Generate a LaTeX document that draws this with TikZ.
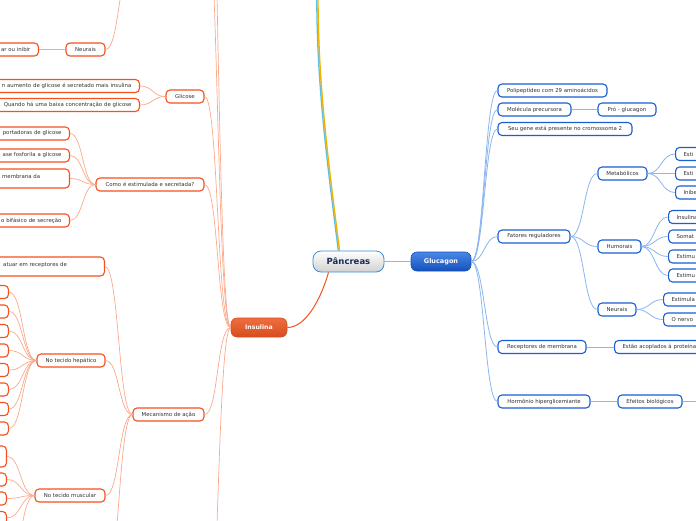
\documentclass[tikz,border=0pt]{standalone}
\usepackage{fontspec}
\setmainfont{DejaVu Sans}
\usetikzlibrary{calc}
\definecolor{oline}{HTML}{F4511E}
\definecolor{olink}{HTML}{FBA98C}
\definecolor{bline}{HTML}{1A5FD0}
\definecolor{blink}{HTML}{8CB6F0}
\definecolor{txt}{HTML}{333333}
\definecolor{pblue}{HTML}{3A8FD8}
\definecolor{pnavy}{HTML}{1B2A55}
\definecolor{yel}{HTML}{F2B200}
\definecolor{cyanl}{HTML}{5BC0EB}
\definecolor{gtop}{HTML}{4A88E6}
\definecolor{gbot}{HTML}{1450BC}
\definecolor{itop}{HTML}{EE6E40}
\definecolor{ibot}{HTML}{D84C1E}
\tikzset{
  box/.style={draw, rounded corners=4pt, fill=white, line width=1.1pt, minimum height=13pt,
    inner ysep=0pt, inner xsep=8pt, font=\fontsize{5.4}{6.4}\selectfont, text=txt},
  ob/.style={box, draw=oline},
  bb/.style={box, draw=bline},
  ol/.style={draw=olink, line width=0.7pt},
  bl/.style={draw=blink, line width=0.8pt},
  olthick/.style={draw=olink, line width=1.8pt},
  blthick/.style={draw=blink, line width=1.8pt},
  plain/.style={font=\fontsize{5.4}{6.4}\selectfont, text=txt, inner sep=0pt}
}
\begin{document}
\begin{tikzpicture}[x=1pt,y=-1pt]
\path[use as bounding box, fill=white] (0,0) rectangle (696,520);
\clip (0,0) rectangle (696,520);

% ---------- central nodes ----------
\node[draw=pblue, rounded corners=8pt, line width=0.8pt, top color=white, bottom color=black!18,
  minimum width=71pt, minimum height=21pt, inner sep=0pt,
  font=\bfseries\fontsize{8.5}{10}\selectfont, text=pnavy] (pan) at (348.5,261.5) {Pâncreas};
\node[draw=gbot, rounded corners=6pt, line width=0.6pt, top color=gtop, bottom color=gbot,
  minimum width=60pt, minimum height=19pt, inner sep=0pt,
  font=\bfseries\fontsize{6.5}{8}\selectfont, text=white] (glu) at (441,261.5) {Glucagon};
\node[draw=ibot, rounded corners=6pt, line width=0.6pt, top color=itop, bottom color=ibot,
  minimum width=56pt, minimum height=19pt, inner sep=0pt,
  font=\bfseries\fontsize{6.2}{8}\selectfont, text=white] (ins) at (259,327.5) {Insulina};

% ---------- left (Insulina) side ----------
\node[ob, minimum width=39pt] (lneu) at (85.5,49.5) {Neurais};
\node[ob, anchor=east, text width=150pt, align=right] (eoi) at (39,49.5) {ar ou inibir};

\node[ob, minimum width=38pt] (gli) at (185,96.5) {Glicose};
\node[ob, anchor=east, text width=200pt, align=right] (g1) at (140,86) {n aumento de glicose é secretado mais insulina};
\node[ob, anchor=east, text width=200pt, align=right] (g2) at (140,105) {Quando há uma baixa concentração de glicose};

\node[ob, minimum width=108pt] (como) at (150,184.5) {Como é estimulada e secretada?};
\node[ob, anchor=east, text width=150pt, align=right] (c1) at (70,133.5) {portadoras de glicose};
\node[ob, anchor=east, text width=150pt, align=right] (c2) at (70,155.5) {ase fosforila a glicose};
\node[ob, anchor=east, minimum width=100pt, minimum height=19pt] (c3) at (70,178.5) {};
\node[plain, anchor=west] (c3t) at (2,176) {membrana da};
\node[ob, anchor=east, text width=150pt, align=right] (c4) at (70,220.5) {o bifásico de secreção};

\node[ob, minimum width=71pt] (mec) at (168.5,414.5) {Mecanismo de ação};
\node[ob, anchor=east, minimum width=140pt, minimum height=19pt] (m0) at (105,266.5) {};
\node[plain, anchor=west] (m0t) at (3,265) {atuar em receptores de};

\node[ob, minimum width=68pt] (hep) at (71,360.5) {No tecido hepático};
\foreach \i/\y in {1/292,2/311.5,3/331,4/350.5,5/370,6/389.5,7/409,8/428.5}{
  \node[ob, anchor=east, minimum width=40pt] (h\i) at (9,\y) {};
}
\node[ob, minimum width=70pt] (mus) at (70,495.5) {No tecido muscular};
\node[ob, anchor=east, minimum width=40pt, minimum height=21pt] (u1) at (7,456.5) {};
\node[ob, anchor=east, minimum width=40pt] (u2) at (7,479.5) {};
\node[ob, anchor=east, minimum width=40pt] (u3) at (7,498.5) {};
\node[ob, anchor=east, minimum width=40pt] (u4) at (7,518) {};

\coordinate (itop1) at (204,-120);
\coordinate (itop2) at (204,-300);
\coordinate (ibotc) at (204,700);
\coordinate (ntop) at (133,-40);
\coordinate (mbot) at (105,590);
\coordinate (ubot) at (7,570);

% ---------- right (Glucagon) side ----------
\node[bb, minimum width=109pt] (poli) at (552.5,90.5) {Polipeptídeo com 29 aminoácidos};
\node[bb, minimum width=73pt] (mol) at (534.5,109.5) {Molécula precursora};
\node[bb, minimum width=58pt] (pro) at (627,109.5) {Pró - glucagon};
\node[bb, minimum width=134pt] (gene) at (565,129) {Seu gene está presente no cromossoma 2};
\node[bb, minimum width=72pt] (fat) at (534,236.5) {Fatores reguladores};
\node[bb, minimum width=49pt] (met) at (622.5,173.5) {Metabólicos};
\node[bb, minimum width=43pt] (hum) at (619.5,246.5) {Humorais};
\node[bb, minimum width=38pt] (rneu) at (617,309.5) {Neurais};
\node[bb, minimum width=88pt] (rec) at (542,347) {Receptores de membrana};
\node[bb, minimum width=92pt] (hor) at (544,401.5) {Hormônio hiperglicemiante};
\node[bb, minimum width=64pt] (efe) at (650,401.5) {Efeitos biológicos};

\node[bb, anchor=west, text width=80pt, align=left] (t1) at (675,154) {Esti};
\node[bb, anchor=west, text width=80pt, align=left] (t2) at (675,173.5) {Esti};
\node[bb, anchor=west, text width=80pt, align=left] (t3) at (675,192.5) {Inibe};
\node[bb, anchor=west, text width=80pt, align=left] (u5) at (668,217) {Insulina};
\node[bb, anchor=west, text width=80pt, align=left] (u6) at (668,236.5) {Somat};
\node[bb, anchor=west, text width=80pt, align=left] (u7) at (668,256.5) {Estimu};
\node[bb, anchor=west, text width=80pt, align=left] (u8) at (668,275.5) {Estimu};
\node[bb, anchor=west, text width=80pt, align=left] (n1) at (663,299.5) {Estimula};
\node[bb, anchor=west, text width=80pt, align=left] (n2) at (663,319.5) {O nervo};
\node[bb, anchor=west, text width=120pt, align=left] (est) at (614,347) {Estão acoplados à proteína};
\coordinate (efend) at (710,401.5);

% ---------- connectors ----------
\coordinate (ptop) at (318,-2);
\coordinate (pstart) at ($(pan.north)+(-9,0)$);
\draw[draw=cyanl, line width=1.3pt, transform canvas={xshift=-1.2pt}] (pstart) .. controls +(-10,-80) and +(0,90) .. (ptop);
\draw[draw=yel, line width=1.4pt] (pstart) .. controls +(-10,-80) and +(0,90) .. (ptop);
\draw[draw=oline, line width=1pt] ($(pan.south)+(-20,0)$) .. controls +(-8,28) and +(18,0) .. (ins.east);
\draw[blthick] (pan.east) -- (glu.west);

\foreach \t in {gli,como,mec}{
  \draw[ol] (ins.west) .. controls +(-14,0) and +(14,0) .. (\t.east);
}
\foreach \t in {itop1,itop2,ibotc}{
  \draw[ol] (ins.west) .. controls +(-14,0) and +(14,0) .. (\t);
}
\draw[ol] (lneu.east) .. controls +(14,0) and +(-14,0) .. (ntop);
\draw[olthick] (lneu.west) -- (eoi.east);
\foreach \t in {g1,g2}{
  \draw[ol] (gli.west) .. controls +(-13,0) and +(13,0) .. (\t.east);
}
\foreach \t in {c1,c2,c3,c4}{
  \draw[ol] (como.west) .. controls +(-13,0) and +(13,0) .. (\t.east);
}
\foreach \t in {m0,hep,mus}{
  \draw[ol] (mec.west) .. controls +(-14,0) and +(14,0) .. (\t.east);
}
\draw[ol] (mec.west) .. controls +(-14,0) and +(14,0) .. (mbot);
\foreach \i in {1,...,8}{
  \draw[ol] (hep.west) .. controls +(-14,0) and +(14,0) .. (h\i.east);
}
\foreach \t in {u1,u2,u3,u4}{
  \draw[ol] (mus.west) .. controls +(-14,0) and +(14,0) .. (\t.east);
}
\draw[ol] (mus.west) .. controls +(-14,0) and +(14,0) .. (ubot);

\foreach \t in {poli,mol,gene,fat,rec,hor}{
  \draw[bl] (glu.east) .. controls +(13,0) and +(-13,0) .. (\t.west);
}
\draw[blthick] (mol.east) -- (pro.west);
\foreach \t in {met,hum,rneu}{
  \draw[bl] (fat.east) .. controls +(14,0) and +(-14,0) .. (\t.west);
}
\foreach \t in {t1,t2,t3}{
  \draw[bl] (met.east) .. controls +(14,0) and +(-14,0) .. (\t.west);
}
\foreach \t in {u5,u6,u7,u8}{
  \draw[bl] (hum.east) .. controls +(13,0) and +(-13,0) .. (\t.west);
}
\foreach \t in {n1,n2}{
  \draw[bl] (rneu.east) .. controls +(13,0) and +(-13,0) .. (\t.west);
}
\draw[bl] (rec.east) -- (est.west);
\draw[blthick] (hor.east) -- (efe.west);
\draw[blthick] (efe.east) -- (efend);
\end{tikzpicture}
\end{document}
